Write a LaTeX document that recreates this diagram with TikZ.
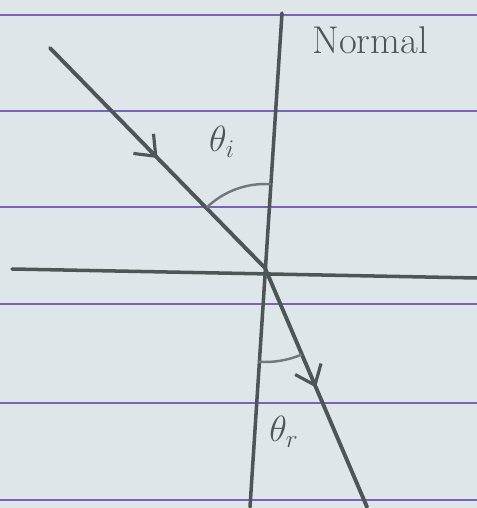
\documentclass[tikz,border=0pt]{standalone}
\usepackage{amsmath, amssymb}
\usepackage{tikz}
\usetikzlibrary{arrows.meta,decorations.markings}

\definecolor{paper}{HTML}{DFE6EA}
\definecolor{rule}{HTML}{7A62B8}
\definecolor{pencil}{HTML}{4C5656}

\tikzset{
  ray/.style={pencil, line width=2.2pt, line cap=round,
    postaction={decorate},
    decoration={markings, mark=at position 0.5 with {\arrow{Straight Barb[length=10pt, width=16pt, line width=1.8pt]}}}},
  pencilline/.style={pencil, line width=2pt, line cap=round},
  anglearc/.style={pencil!80, line width=1.4pt},
  hand/.style={pencil, font=\fontsize{22}{26}\selectfont}
}

\begin{document}
\begin{tikzpicture}[x=0.02cm, y=0.02cm]

% paper
\fill[paper] (0,0) rectangle (477,508);
\useasboundingbox (0,0) rectangle (477,508);

% ruled lines of the page
\foreach \h in {493,397,301,204,105,8}
  \draw[rule, line width=1.1pt] (0,\h) -- (477,\h);

% points
\coordinate (O) at (265,240);
\coordinate (Ntop) at (282,495);
\coordinate (Nbot) at (250,1);
\coordinate (Sleft) at (12,239);
\coordinate (Sright) at (477,230);
\coordinate (A) at (50,460);
\coordinate (B) at (367,1);

% surface and normal
\draw[pencilline] (Sleft) -- (Sright);
\draw[pencilline] (Nbot) -- (Ntop);

% incident and refracted rays
\draw[ray] (A) -- (O);
\draw[ray] (O) -- (B);

% angles
\draw[anglearc] ([shift={(86:84)}]O) arc[start angle=86, end angle=134, radius=84];
\draw[anglearc] ([shift={(266:94)}]O) arc[start angle=266, end angle=293, radius=94];

% labels
\node[hand] (ti) at (222,366) {$\theta_i$};
\node[hand] (tr) at (284,76) {$\theta_r$};
\node[hand] (nl) at (370,468) {Normal};

\end{tikzpicture}
\end{document}
